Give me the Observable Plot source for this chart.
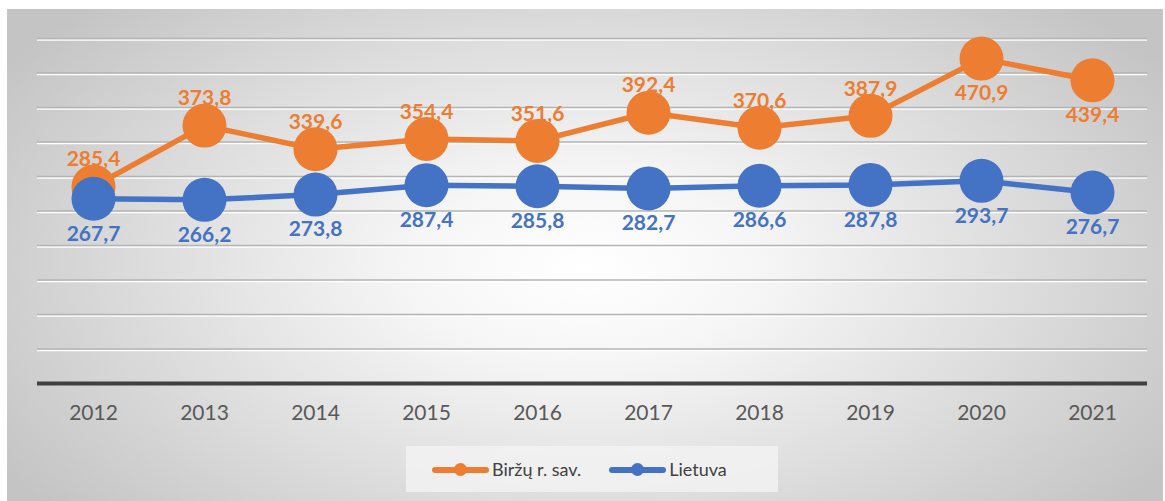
<!DOCTYPE html>
<html><head><meta charset="utf-8">
<script src="https://cdn.jsdelivr.net/npm/d3@7"></script>
<script src="https://cdn.jsdelivr.net/npm/@observablehq/plot@0.6"></script>
<style>
body{margin:0;background:#fff;width:1165px;height:501px;overflow:hidden;position:relative;font-family:Lato,"Open Sans",sans-serif;}
#frame{position:absolute;left:7px;top:9px;width:1156px;height:500px;
 background:radial-gradient(ellipse 60% 75% at 50% 52%, #ffffff 0%, #f6f6f6 25%, #c4c4c4 100%);}
#chart{position:absolute;left:0;top:0;}
#legend{position:absolute;left:406px;top:446px;width:372px;height:46px;background:rgba(242,242,242,0.85);
 display:flex;align-items:center;font-size:18px;color:#404040;}
.item{display:flex;align-items:center;}
.sw{position:relative;width:57px;height:14px;margin-right:3px;}
.sw .ln{position:absolute;left:0;top:4.5px;width:57px;height:6px;border-radius:3px;}
.sw .dt{position:absolute;left:22px;top:1px;width:13px;height:13px;border-radius:50%;}
</style></head>
<body>
<div id="frame"></div>
<div id="chart"></div>
<div id="legend"></div>
<script>
const years = ["2012","2013","2014","2015","2016","2017","2018","2019","2020","2021"];
const birzai = [285.4,373.8,339.6,354.4,351.6,392.4,370.6,387.9,470.9,439.4];
const lietuva = [267.7,266.2,273.8,287.4,285.8,282.7,286.6,287.8,293.7,276.7];
const birzaiLabelSide = ["above","above","above","above","above","above","above","above","below","below"];
const lietuvaLabelSide = ["below","below","below","below","below","below","below","below","below","below"];
const seriesNames = ["Biržų r. sav.","Lietuva"];
const colors = ["#ED7D31","#4472C4"];
const gridTicks = [50,100,150,200,250,300,350,400,450,500];

const fmt = v => v.toFixed(1).replace(".", ",");
const rows = [];
years.forEach((y,i)=>{
  rows.push({year:y, value:birzai[i], series:seriesNames[0], side:birzaiLabelSide[i]});
  rows.push({year:y, value:lietuva[i], series:seriesNames[1], side:lietuvaLabelSide[i]});
});
const s0 = rows.filter(d=>d.series===seriesNames[0]);
const s1 = rows.filter(d=>d.series===seriesNames[1]);

const labelFont = {fontSize:21, fontWeight:"bold", fontFamily:"Lato, sans-serif"};
function labels(data, color){
  return [
    Plot.text(data.filter(d=>d.side==="above"), {x:"year", y:"value", text:d=>fmt(d.value), fill:color, dy:-27, ...labelFont}),
    Plot.text(data.filter(d=>d.side==="below"), {x:"year", y:"value", text:d=>fmt(d.value), fill:color, dy:35, ...labelFont})
  ];
}

const plot = Plot.plot({
  width:1165, height:440,
  marginLeft:37, marginRight:18, marginTop:38, marginBottom:57,
  style:{background:"transparent", fontFamily:"Lato, sans-serif"},
  x:{type:"point", domain:years, padding:0.5, label:null},
  y:{domain:[0,500], label:null, axis:null},
  marks:[
    Plot.ruleY(gridTicks, {stroke:"#ffffff", strokeWidth:1.5, dy:1.5}),
    Plot.ruleY(gridTicks, {stroke:"#b4b4b4", strokeWidth:1.5}),
    Plot.ruleY([0], {stroke:"#404040", strokeWidth:4}),
    Plot.axisX({tickSize:0, tickPadding:22, fontSize:21, color:"#595959", fill:"#595959", label:null}),
    ...labels(s0, colors[0]),
    ...labels(s1, colors[1]),
    Plot.line(s0, {x:"year", y:"value", stroke:colors[0], strokeWidth:5.5, strokeLinejoin:"round"}),
    Plot.dot(s0, {x:"year", y:"value", r:22, fill:colors[0]}),
    Plot.line(s1, {x:"year", y:"value", stroke:colors[1], strokeWidth:5.5, strokeLinejoin:"round"}),
    Plot.dot(s1, {x:"year", y:"value", r:22, fill:colors[1]})
  ]
});
document.getElementById("chart").appendChild(plot);

const leg = document.getElementById("legend");
seriesNames.forEach((n,i)=>{
  const it = document.createElement("div");
  it.className="item";
  it.style.marginLeft = i===0 ? "26px" : "28px";
  it.innerHTML = `<div class="sw"><div class="ln" style="background:${colors[i]}"></div><div class="dt" style="background:${colors[i]}"></div></div><span>${n}</span>`;
  leg.appendChild(it);
});
</script>
</body></html>
